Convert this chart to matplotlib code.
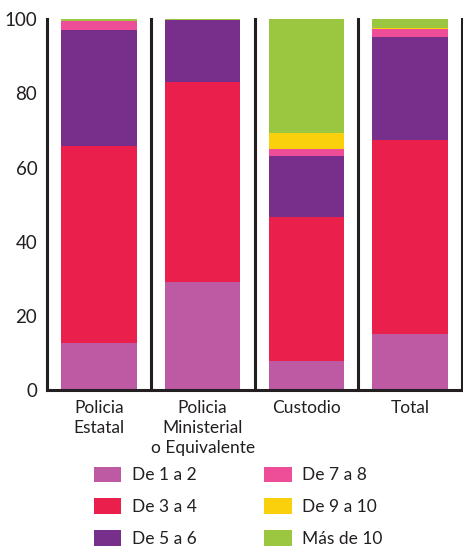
import matplotlib
matplotlib.use('Agg')
import matplotlib.pyplot as plt
from matplotlib.patches import Patch
import numpy as np

plt.rcParams['font.family'] = ['Lato', 'DejaVu Sans']

categories = ['Policia\nEstatal', 'Policia\nMinisterial\no Equivalente', 'Custodio', 'Total']
groups = ['De 1 a 2', 'De 3 a 4', 'De 5 a 6', 'De 7 a 8', 'De 9 a 10', 'Más de 10']
colors = ['#BE5AA3', '#EA1F4B', '#782F8C', '#EE4E98', '#FAD00D', '#9AC73F']

de_1_2 = [12.8, 29.1, 7.8, 15.2]
de_3_4 = [53.1, 54.1, 38.9, 52.2]
de_5_6 = [31.2, 16.6, 16.4, 27.9]
de_7_8 = [2.4, 0.0, 1.9, 2.1]
de_9_10 = [0.0, 0.0, 4.3, 0.3]
mas_10 = [0.5, 0.2, 30.7, 2.3]
series = [de_1_2, de_3_4, de_5_6, de_7_8, de_9_10, mas_10]

ink = '#231F20'
fig = plt.figure(figsize=(4.63, 5.47), dpi=100)
ax = fig.add_axes([47/463, 1 - 390/547, 415/463, (390 - 19.3)/547])

x = np.arange(len(categories))
bottom = np.zeros(len(categories))
for vals, col, lab in zip(series, colors, groups):
    ax.bar(x, vals, width=0.73, bottom=bottom, color=col, label=lab, linewidth=0)
    bottom += np.array(vals)

ax.set_xlim(-0.5, len(categories) - 0.5)
ax.set_ylim(0, 100)
# dividers between the groups
for sep in x[:-1] + 0.5:
    ax.axvline(sep, color=ink, lw=2.2, clip_on=False)

for s in ['left', 'bottom', 'right']:
    ax.spines[s].set_color(ink)
    ax.spines[s].set_linewidth(2.2)
ax.spines['top'].set_visible(False)

ax.set_yticks([0, 20, 40, 60, 80, 100])
ax.tick_params(axis='y', length=0, pad=7, labelsize=13.5, labelcolor=ink)
ax.set_xticks(x)
ax.set_xticklabels(categories, fontsize=12.5, color=ink, linespacing=1.32)
ax.tick_params(axis='x', length=0, pad=7)

handles = [Patch(facecolor=c, edgecolor='none') for c in colors]
fig.legend(handles, groups, ncol=2, loc='upper left', bbox_to_anchor=(94/463, 1 - 466.5/547),
           frameon=False, fontsize=12.5, handlelength=1.56, handleheight=1.04,
           handletextpad=0.62, columnspacing=3.9, labelspacing=0.86, labelcolor=ink,
           borderaxespad=0, borderpad=0)

fig.savefig('out.png', dpi=100)
